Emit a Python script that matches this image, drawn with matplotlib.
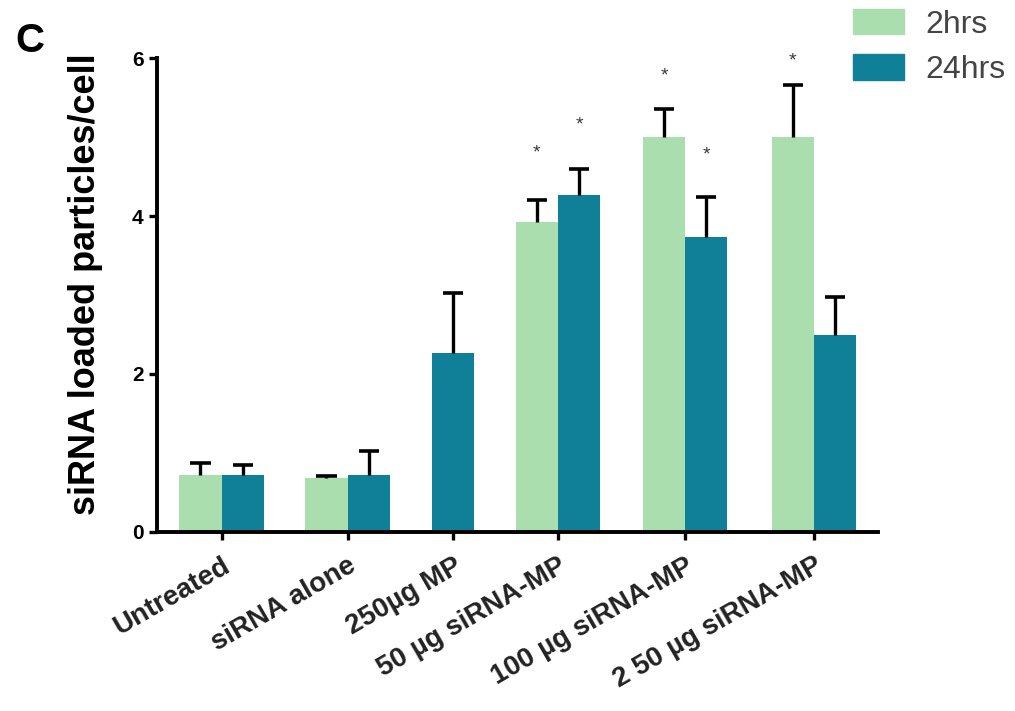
import numpy as np
import matplotlib
matplotlib.use("Agg")
import matplotlib.pyplot as plt
from matplotlib.patches import Patch

plt.rcParams['font.family'] = ['Liberation Sans', 'DejaVu Sans']

# data
groups = ["Untreated", "siRNA alone", "250µg MP", "50 µg siRNA-MP",
          "100 µg siRNA-MP", "2 50 µg siRNA-MP"]
hrs2 = [0.72, 0.68, np.nan, 3.92, 5.00, 5.00]
hrs2_err = [0.15, 0.03, np.nan, 0.28, 0.36, 0.66]
hrs24 = [0.72, 0.72, 2.26, 4.27, 3.73, 2.49]
hrs24_err = [0.13, 0.30, 0.77, 0.33, 0.51, 0.48]
star2 = [None, None, None, 4.80, 5.78, 5.97]
star24 = [None, None, None, 5.15, 4.77, None]

# group centres (the original spacing is uneven)
pos = np.array([0.0, 1.0, 1.84, 2.67, 3.68, 4.70])
w = 0.335
cap = 0.08

green = '#aadeae'
teal = '#108098'

fig = plt.figure(figsize=(10.15, 7.11), dpi=100)
ax = fig.add_axes([0.155, 0.252, 0.71, 0.666])

x2 = pos - w / 2
x24 = pos + w / 2
# 250 MP has only the 24 hrs bar, centred on its tick
x24[2] = pos[2]

for xs, vals, errs, col in [(x2, hrs2, hrs2_err, green), (x24, hrs24, hrs24_err, teal)]:
    vals = np.array(vals)
    tops = vals + np.array(errs)
    ax.bar(xs, vals, width=w, color=col, zorder=2)
    # one-sided error bars (upper only)
    ax.vlines(xs, vals, tops, color='black', lw=2.4, zorder=3)
    ax.hlines(tops, xs - cap, xs + cap, color='black', lw=2.6, zorder=3)

for xs, ss in [(x2, star2), (x24, star24)]:
    for xi, s in zip(xs, ss):
        if s is not None:
            ax.text(xi, s, '*', ha='center', va='center', fontsize=14, color='#3a3a3a')

ax.set_xlim(-0.51, 5.21)
ax.set_ylim(0, 6)
ax.set_yticks([0, 2, 4, 6])
ax.set_yticklabels(['0', '2', '4', '6'], fontsize=15, fontweight='bold')
ax.set_xticks(pos)
ax.set_xticklabels(groups, rotation=30, ha='right', rotation_mode='anchor',
                   fontsize=20, fontweight='bold', color='#222222')
ax.tick_params(axis='both', width=2.4, length=6, direction='out', color='black')
ax.tick_params(axis='x', pad=9)
ax.tick_params(axis='y', pad=4)

for s in ['top', 'right']:
    ax.spines[s].set_visible(False)
for s in ['left', 'bottom']:
    ax.spines[s].set_linewidth(2.8)

ax.set_ylabel('siRNA loaded particles/cell', fontsize=26, fontweight='bold')
ax.yaxis.set_label_coords(-0.076, 0.523)

fig.text(0.015, 0.927, 'C', fontsize=29, fontweight='bold', va='baseline')

handles = [Patch(color=green, label='2hrs'), Patch(color=teal, label='24hrs')]
fig.legend(handles=handles, loc='upper left', bbox_to_anchor=(0.825, 1.01), frameon=False,
           borderpad=0.0, fontsize=23, handlelength=1.6, handleheight=0.85,
           handletextpad=0.65, labelspacing=0.45, labelcolor='#444444')

fig.savefig('out.png', dpi=100)
